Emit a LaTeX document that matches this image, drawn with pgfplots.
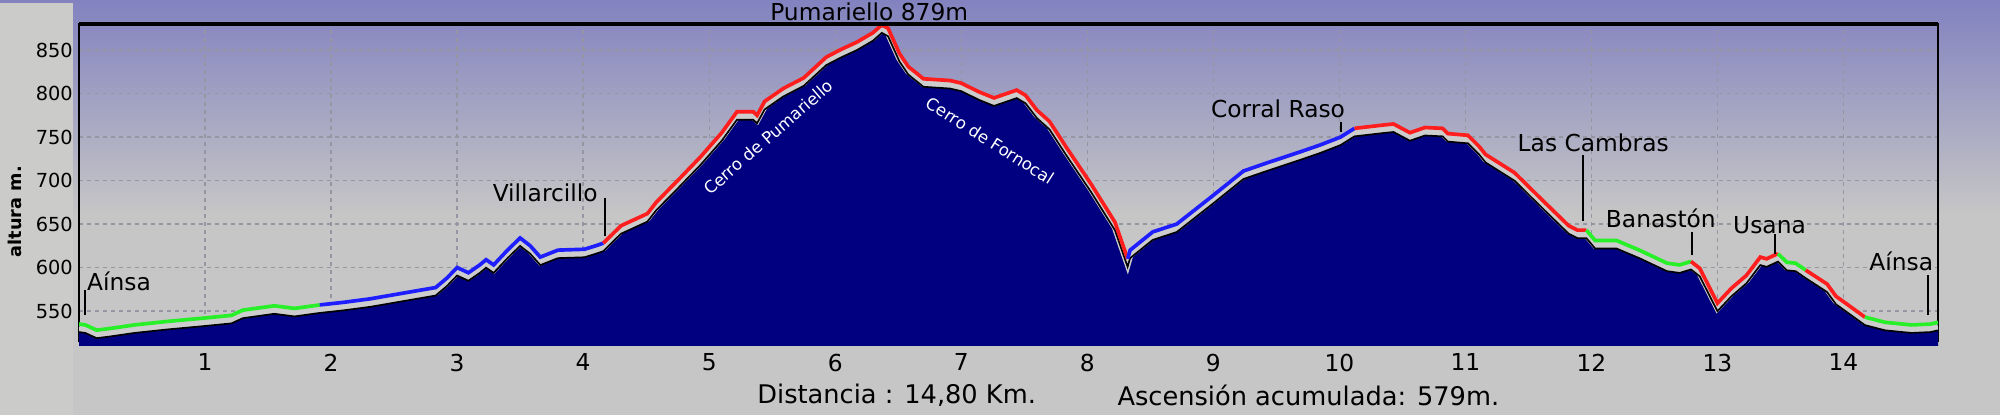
\documentclass[border=0pt]{standalone}
\usepackage{fontspec}
\setmainfont{DejaVu Sans}
\usepackage{pgfplots}
\usepackage{pgfplotstable}
\pgfplotsset{compat=1.18}
\definecolor{bgtop}{RGB}{130,130,192}
\definecolor{bggray}{RGB}{198,198,198}
\definecolor{boxgray}{RGB}{203,203,201}
\definecolor{fillnavy}{RGB}{0,0,128}
\definecolor{lred}{RGB}{255,30,30}
\definecolor{lgreen}{RGB}{40,240,40}
\definecolor{lblue}{RGB}{30,30,255}
\definecolor{shadowc}{RGB}{205,205,205}
\definecolor{gridc}{RGB}{150,150,162}

\pgfplotstableread{
km e
0.00 535
0.05 534
0.14 528
0.25 530
0.44 534
0.70 538
1.00 542
1.21 545
1.30 551
1.45 554
1.55 556
1.71 553
1.91 557
2.10 560
2.31 564
2.55 570
2.83 577
2.92 588
3.00 600
3.09 594
3.18 603
3.23 609
3.29 603
3.40 620
3.50 634
3.58 625
3.66 612
3.80 620
4.01 621
4.10 625
4.16 628
4.30 648
4.51 662
4.58 675
4.75 700
4.93 727
5.10 755
5.22 779
5.35 779
5.38 775
5.44 791
5.59 806
5.75 818
5.93 842
6.05 851
6.17 859
6.30 870
6.37 879
6.42 875
6.51 846
6.58 831
6.70 817
6.91 815
7.00 812
7.14 802
7.26 795
7.44 804
7.51 798
7.60 781
7.70 768
7.83 739
8.03 696
8.22 652
8.32 610
8.34 620
8.52 641
8.71 650
9.00 683
9.24 711
9.42 720
9.71 734
9.85 741
10.01 750
10.12 760
10.36 764
10.43 765
10.56 755
10.68 761
10.82 760
10.86 754
11.02 752
11.11 739
11.16 730
11.39 709
11.60 679
11.82 648
11.89 643
11.96 643
12.03 631
12.20 631
12.38 620
12.60 605
12.70 603
12.79 607
12.86 599
13.00 559
13.11 576
13.23 591
13.34 612
13.39 610
13.48 616
13.55 606
13.62 605
13.70 597
13.87 581
13.94 567
14.17 543
14.33 537
14.54 534
14.69 535
14.75 537
}\prof

\begin{document}
\begin{tikzpicture}
\useasboundingbox (0,0) rectangle (600pt,124.5pt);
\fill[bggray] (0,0) rectangle (600pt,124.5pt);
\shade[top color=bgtop, bottom color=bggray] (0,60pt) rectangle (600pt,124.5pt);
\fill[boxgray] (0,0) rectangle (21.9pt,123.6pt);
\begin{axis}[
  at={(23.7pt,23.1pt)}, anchor=south west, scale only axis,
  width=557.7pt, height=94.2pt,
  xmin=0, xmax=14.75, ymin=519, ymax=880,
  xtick={1,...,14}, minor xtick={0,0.25,...,14.75},
  ytick={550,600,...,850},
  grid=major,
  major grid style={gridc, line width=0.4pt, dash pattern=on 1.2pt off 1.2pt},
  axis line style={black, line width=0.6pt},
  tick align=outside, xtick pos=bottom, ytick pos=left,
  major tick length=1.2pt, minor tick length=1.2pt,
  ytick style={draw=none},
  xtick style={black, line width=0.4pt},
  tick label style={/pgf/number format/assume math mode=true},
  xticklabel style={font=\fontsize{7}{8}\selectfont},
  yticklabel style={font=\fontsize{5.8}{7}\selectfont, inner sep=0.5pt},
  clip mode=individual,
]
\addplot[draw=none, fill=fillnavy, yshift=-2.4pt] table[x=km,y=e]{\prof} \closedcycle;
\addplot[shadowc, line width=2pt, yshift=-1.4pt] table[x=km,y=e]{\prof};
\addplot[black, line width=0.5pt, yshift=-2.4pt] table[x=km,y=e]{\prof};
\addplot[lgreen, line width=1.1pt, restrict x to domain=-0.01:1.915] table[x=km,y=e]{\prof};
\addplot[lblue, line width=1.1pt, restrict x to domain=1.905:4.165] table[x=km,y=e]{\prof};
\addplot[lred, line width=1.1pt, restrict x to domain=4.155:8.325] table[x=km,y=e]{\prof};
\addplot[lblue, line width=1.1pt, restrict x to domain=8.315:10.125] table[x=km,y=e]{\prof};
\addplot[lred, line width=1.1pt, restrict x to domain=10.115:11.965] table[x=km,y=e]{\prof};
\addplot[lgreen, line width=1.1pt, restrict x to domain=11.955:12.795] table[x=km,y=e]{\prof};
\addplot[lred, line width=1.1pt, restrict x to domain=12.785:13.485] table[x=km,y=e]{\prof};
\addplot[lgreen, line width=1.1pt, restrict x to domain=13.475:13.705] table[x=km,y=e]{\prof};
\addplot[lred, line width=1.1pt, restrict x to domain=13.695:14.175] table[x=km,y=e]{\prof};
\addplot[lgreen, line width=1.1pt, restrict x to domain=14.165:14.8] table[x=km,y=e]{\prof};
\draw[black, line width=1.1pt] (rel axis cs:0,1) -- (rel axis cs:1,1);
% labels
\begin{scope}[every node/.style={font=\fontsize{7}{8}\selectfont, inner sep=0pt}]
\node[anchor=base west] at (axis cs:0.06,574) {Aínsa};
\draw[line width=0.6pt] (axis cs:0.05,545) -- (axis cs:0.05,574);
\node[anchor=base east] at (axis cs:4.12,676) {Villarcillo};
\draw[line width=0.6pt] (axis cs:4.17,636) -- (axis cs:4.17,680);
\node[anchor=base] at (axis cs:6.27,883.5) {Pumariello 879m};
\node[anchor=base east] at (axis cs:10.05,773) {Corral Raso};
\draw[line width=0.6pt] (axis cs:10.01,756) -- (axis cs:10.01,767);
\node[anchor=base west] at (axis cs:11.41,733) {Las Cambras};
\draw[line width=0.6pt] (axis cs:11.93,653) -- (axis cs:11.93,729);
\node[anchor=base west] at (axis cs:12.11,646) {Banastón};
\draw[line width=0.6pt] (axis cs:12.80,614) -- (axis cs:12.80,641);
\node[anchor=base west] at (axis cs:13.12,639) {Usana};
\draw[line width=0.6pt] (axis cs:13.46,616) -- (axis cs:13.46,639);
\node[anchor=base west] at (axis cs:14.20,597) {Aínsa};
\draw[line width=0.6pt] (axis cs:14.67,545) -- (axis cs:14.67,591);
\end{scope}
\node[white, rotate=41, font=\fontsize{5}{6}\selectfont, inner sep=0pt] at (axis cs:5.47,750) {Cerro de Pumariello};
\node[white, rotate=-32.5, font=\fontsize{5}{6}\selectfont, inner sep=0pt] at (axis cs:7.23,746) {Cerro de Fornocal};
\end{axis}
\node[rotate=90, font=\fontsize{5.3}{6}\selectfont\bfseries] at (4.5pt,61pt) {altura m.};
\node[font=\fontsize{7.7}{9}\selectfont] at (269pt,6pt) {Distancia : 14,80 Km.};
\node[font=\fontsize{7.7}{9}\selectfont] at (392.5pt,6pt) {Ascensión acumulada: 579m.};
\end{tikzpicture}
\end{document}
